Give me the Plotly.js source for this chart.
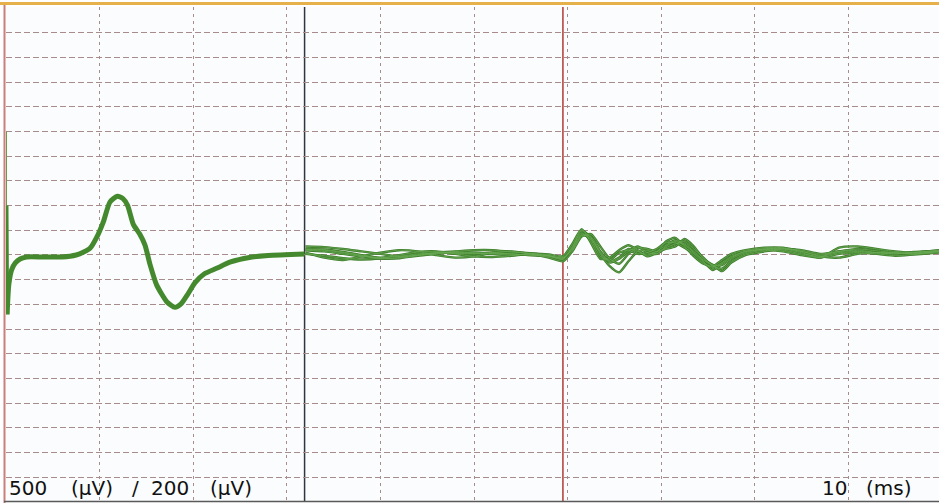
<!DOCTYPE html>
<html>
<head>
<meta charset="utf-8">
<script src="https://cdn.plot.ly/plotly-3.0.1.min.js"></script>
<style>html,body{margin:0;padding:0;background:#fff;}#chart{width:939px;height:503px;}</style>
</head>
<body>
<div id="chart"></div>
<script>
// time in ms (10 ms / division)
// left part: 500 µV / division
const artifactX = [0.05, 0.05, 0.12];
const artifactY = [0, 1000, -1200];
const artifactThinX = [0.0, 0.0];
const artifactThinY = [2500, -1200];

const leftX = [0.12, 0.3, 0.6, 1.0, 1.5, 2.2, 4, 6, 7.5, 8.3, 9.0, 9.7, 10.4, 11.1, 11.9, 12.5, 13.0, 13.6, 14.3, 14.85, 15.4, 16.1, 17.2, 18.05, 18.7, 19.4, 20.2, 21.2, 22.5, 24.0, 26.0, 28.0, 31.9];
const leftY = [-1200, -600, -300, -160, -80, -40, -40, -40, 0, 60, 140, 360, 670, 1070, 1190, 1140, 1000, 620, 420, 200, -200, -610, -950, -1060, -990, -800, -560, -380, -270, -140, -50, -10, 20];

// right part: 200 µV / division, superimposed sweeps
const rightX = [32, 34, 36, 38, 40, 42, 44, 46, 48, 50, 52, 54, 56, 58, 59.5, 60.5, 61.5, 62.5, 63.5, 64.5, 65.5, 66.5, 67.5, 68.5, 69.5, 70.5, 71.5, 72.5, 73.5, 74.5, 75.5, 76.5, 77.5, 79, 81, 83, 85, 87, 89, 91, 93, 95, 97, 99.7];
const sweepA = [30, 20, 0, -20, -30, -20, 0, 10, 5, 0, 10, 0, -10, -20, -40, 60, 170, 110, -20, -50, 10, 30, 0, 10, 40, 90, 90, 50, 0, -70, -110, -70, -20, 20, 35, 30, 0, -20, 10, 20, 10, 0, 10, 30];
const sweepB = [40, 35, 15, -10, -35, -35, -15, 0, 15, 10, 0, -10, 0, -15, -30, 30, 150, 140, 20, -60, -30, 40, 20, -10, 20, 70, 110, 80, 20, -50, -90, -90, -40, 10, 40, 45, 20, -10, 20, 40, 25, 10, 0, 20];
const sweepC = [60, 55, 40, 20, 0, -20, -10, 10, 20, 30, 30, 15, 5, -15, -45, 50, 190, 130, 0, -100, -150, -60, 20, 30, 0, 50, 80, 100, 40, -30, -100, -120, -60, 0, 30, 20, -10, -30, 0, 10, 0, -15, -5, 10];
const sweepD = [0, -15, -35, -45, -35, -10, 15, 20, 0, -20, -25, -15, 0, -5, -20, 80, 200, 90, -40, -30, 30, 70, 30, -20, 10, 100, 130, 60, -20, -80, -100, -50, 0, 30, 50, 50, 20, -20, -30, 0, 10, 10, 0, 20];
const sweepE = [35, 30, 10, -15, -40, -30, -10, 5, 10, 5, 5, 0, -10, -15, -35, 40, 160, 120, 10, -70, -40, 20, 60, 10, 0, 60, 100, 70, 10, -60, -130, -80, -30, 20, 40, 40, 10, -30, 50, 60, 40, 20, 10, 20];
const sweepF = [10, -30, -50, -20, 10, 30, 20, -10, -30, -20, 10, 20, 0, -30, -60, 20, 140, 160, 60, -40, -80, 0, 50, 40, 20, 40, 60, 120, 60, -40, -90, -140, -70, -10, 20, 40, 30, 0, 20, 30, 10, 0, 15, 25];
const sweeps = [sweepA, sweepB, sweepC, sweepD, sweepE, sweepF];

const cursorDark = 31.9;
const cursorRed = 59.5;

const labelLeft = ["500", "(µV)", "/", "200", "(µV)"];
const labelRight = ["10", "(ms)"];

const green = "#45892f";
const traces = [];
traces.push({x: artifactThinX, y: artifactThinY, mode: "lines", line: {color: "#6a9a4a", width: 2}, hoverinfo: "skip"});
traces.push({x: artifactX, y: artifactY, mode: "lines", line: {color: green, width: 4}, hoverinfo: "skip"});
traces.push({x: leftX, y: leftY, mode: "lines", line: {color: green, width: 5, shape: "spline", smoothing: 0.6}, hoverinfo: "skip"});
sweeps.forEach(s => {
  traces.push({x: rightX, y: s, yaxis: "y2", mode: "lines", line: {color: "#3d7d2a", width: 2.4, shape: "spline", smoothing: 0.6}, hoverinfo: "skip"});
});
sweeps.forEach(s => {
  traces.push({x: rightX, y: s, yaxis: "y2", mode: "lines", line: {color: "#6aa954", width: 0.8, shape: "spline", smoothing: 0.6}, hoverinfo: "skip"});
});

const L = 6, T = 7, W = 933, H = 495;
const px = v => (v - L) / W;
const py = v => (T + H - v) / H;

const textFont = {family: "DejaVu Sans", size: 20, color: "#111"};
const leftPos = [8, 70, 131, 150, 209];
const rightPos = [821, 865];
const annotations = [];
labelLeft.forEach((t, i) => annotations.push({text: t, xref: "paper", yref: "paper", x: px(leftPos[i]), y: py(487.5), xanchor: "left", yanchor: "middle", showarrow: false, font: textFont, borderpad: 0}));
labelRight.forEach((t, i) => annotations.push({text: t, xref: "paper", yref: "paper", x: px(rightPos[i]), y: py(487.5), xanchor: "left", yanchor: "middle", showarrow: false, font: textFont, borderpad: 0}));

const shapes = [
  {type: "line", xref: "x", yref: "paper", x0: cursorDark, x1: cursorDark, y0: 0, y1: 1, line: {color: "#2f3642", width: 1.5}, layer: "between"},
  {type: "line", xref: "x", yref: "paper", x0: cursorRed, x1: cursorRed, y0: 0, y1: 1, line: {color: "#b23a32", width: 1.5}, layer: "between"},
  {type: "line", xref: "paper", yref: "paper", x0: px(4.5), x1: px(4.5), y0: py(503), y1: py(4), line: {color: "#c97f7c", width: 2}, layer: "between"},
  {type: "line", xref: "paper", yref: "paper", x0: px(0), x1: px(939), y0: py(3.5), y1: py(3.5), line: {color: "#e6b14a", width: 3}},
  {type: "line", xref: "paper", yref: "paper", x0: px(4), x1: px(939), y0: py(501.5), y1: py(501.5), line: {color: "#5a5a5a", width: 1.5}}
];

const layout = {
  width: 939, height: 503,
  margin: {l: L, r: 939 - L - W, t: T, b: 503 - T - H, pad: 0},
  paper_bgcolor: "#ffffff",
  plot_bgcolor: "#fafcfd",
  showlegend: false,
  xaxis: {range: [0, 99.68], dtick: 10, tick0: 0, showgrid: true, gridcolor: "#a88c8c", griddash: "3px,4px", gridwidth: 1, zeroline: false, showticklabels: false, ticks: "", showline: false, fixedrange: true},
  yaxis: {range: [-5000, 5020], dtick: 500, tick0: 0, showgrid: true, gridcolor: "#a88c8c", griddash: "6px,3px", gridwidth: 1, zeroline: false, showticklabels: false, ticks: "", showline: false, fixedrange: true},
  yaxis2: {range: [-2010, 2000], overlaying: "y", showgrid: false, zeroline: false, showticklabels: false, ticks: "", showline: false, fixedrange: true},
  shapes: shapes,
  annotations: annotations
};

Plotly.newPlot("chart", traces, layout, {staticPlot: true, displayModeBar: false});
</script>
</body>
</html>
